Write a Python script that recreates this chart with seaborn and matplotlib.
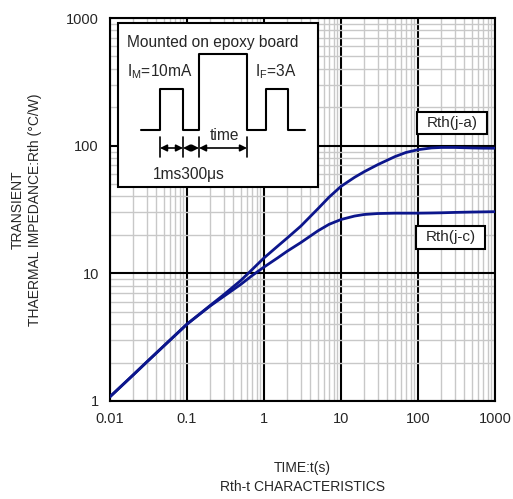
import numpy as np
import pandas as pd
import matplotlib
matplotlib.use('Agg')
import matplotlib.pyplot as plt
import seaborn as sns
from matplotlib.ticker import LogLocator, NullFormatter, FixedLocator, FixedFormatter

# ── Données ──────────────────────────────────────────────────────────────────
time_s = [0.01, 0.02, 0.03, 0.05, 0.1, 0.2, 0.3, 0.5, 0.7, 1, 1.5, 2, 3, 5, 7,
          10, 15, 20, 30, 50, 70, 100, 150, 200, 300, 500, 700, 1000]
rth_ja = [1.08, 1.60, 2.02, 2.70, 4.0, 5.6, 6.8, 8.8, 10.7, 13.2, 16.3, 18.9, 23.4, 32, 39.5,
          48, 56.5, 62.5, 71, 82, 88.5, 93, 96, 96.8, 96.8, 96, 95.6, 95.5]
rth_jc = [1.08, 1.60, 2.02, 2.70, 4.0, 5.55, 6.6, 8.2, 9.6, 11.2, 13.2, 14.9, 17.4, 21.5, 24.2,
          26.4, 28.1, 28.9, 29.4, 29.6, 29.6, 29.6, 29.7, 29.8, 30, 30.2, 30.3, 30.4]
series_names = ['Rth(j-a)', 'Rth(j-c)']
x_ticks = [0.01, 0.1, 1, 10, 100, 1000]
x_ticklabels = ['0.01', '0.1', '1', '10', '100', '1000']
y_ticks = [1, 10, 100, 1000]
y_ticklabels = ['1', '10', '100', '1000']

df = pd.DataFrame({
    'time': time_s * 2,
    'rth': rth_ja + rth_jc,
    'serie': [series_names[0]] * len(time_s) + [series_names[1]] * len(time_s),
})

sns.set_style('white')
plt.rcParams['font.family'] = ['Liberation Sans', 'DejaVu Sans']

W, H = 513, 499
fig = plt.figure(figsize=(W / 100, H / 100), dpi=100)
L, R, T, B = 110, 495, 18, 401
ax = fig.add_axes([L / W, (H - B) / H, (R - L) / W, (B - T) / H])

navy = '#0c168c'
sns.lineplot(data=df, x='time', y='rth', hue='serie', palette=[navy, navy],
             linewidth=2, legend=False, ax=ax, zorder=5)
ax.set_xscale('log'); ax.set_yscale('log')
ax.set_xlim(0.01, 1000); ax.set_ylim(1, 1000)

ax.xaxis.set_major_locator(FixedLocator(x_ticks))
ax.xaxis.set_major_formatter(FixedFormatter(x_ticklabels))
ax.yaxis.set_major_locator(FixedLocator(y_ticks))
ax.yaxis.set_major_formatter(FixedFormatter(y_ticklabels))
ax.xaxis.set_minor_locator(LogLocator(base=10, subs=np.arange(2, 10)))
ax.yaxis.set_minor_locator(LogLocator(base=10, subs=np.arange(2, 10)))
ax.xaxis.set_minor_formatter(NullFormatter())
ax.yaxis.set_minor_formatter(NullFormatter())
ax.grid(which='minor', color='#c8c8c8', linewidth=1.0)
ax.grid(which='major', color='black', linewidth=1.5)
ax.tick_params(which='both', length=0, labelsize=10.5, pad=8)
for s in ax.spines.values():
    s.set_color('black'); s.set_linewidth(1.5)
ax.set_xlabel('TIME:t(s)\nRth-t CHARACTERISTICS', fontsize=10, labelpad=25, linespacing=1.5)
ax.set_ylabel('TRANSIENT\nTHAERMAL IMPEDANCE:Rth (°C/W)', fontsize=10, labelpad=17, linespacing=1.3)

# ── Encart (coordonnées pixel -> axes) ──────────────────────────────────────
def px(x, y):
    return (x - L) / (R - L), (B - y) / (B - T)

def box(x0, y0, x1, y1, lw=1.5):
    a = px(x0, y1); b = px(x1, y0)
    ax.add_patch(plt.Rectangle(a, b[0] - a[0], b[1] - a[1], transform=ax.transAxes,
                               facecolor='white', edgecolor='black', linewidth=lw, zorder=6))

box(118, 23, 318, 187)
def txt(x, y, s, ha='left', size=11.2):
    ax.text(*px(x, y), s, transform=ax.transAxes, ha=ha, va='center', fontsize=size, zorder=8)

txt(127, 42, 'Mounted on epoxy board')
txt(127, 72, r'I$_{\mathregular{M}}$=10mA')
txt(255, 72, r'I$_{\mathregular{F}}$=3A')
wave_x = [141, 160, 160, 183, 183, 199, 199, 247, 247, 266, 266, 288, 288, 305]
wave_y = [130, 130, 89, 89, 130, 130, 54, 54, 130, 130, 89, 89, 130, 130]
pts = [px(a, b) for a, b in zip(wave_x, wave_y)]
ax.plot([p[0] for p in pts], [p[1] for p in pts], color='black', linewidth=1.5,
        transform=ax.transAxes, zorder=8)
for xv in [160, 183, 199, 247]:
    p0, p1 = px(xv, 137), px(xv, 157)
    ax.plot([p0[0], p1[0]], [p0[1], p1[1]], color='black', linewidth=1.2,
            transform=ax.transAxes, zorder=8)
for a, b in [(160, 183), (183, 199), (199, 247)]:
    ax.annotate('', xy=px(b, 148), xytext=px(a, 148), xycoords='axes fraction',
                arrowprops=dict(arrowstyle='<|-|>', color='black', lw=1.2,
                                mutation_scale=10, shrinkA=0, shrinkB=0), zorder=8)
txt(225, 135, 'time', ha='center')
txt(153, 174, '1ms300μs')

# ── Étiquettes des courbes ───────────────────────────────────────────────
for (x0, y0, x1, y1), name in zip([(417, 112, 487, 134), (416, 226, 485, 249)], series_names):
    box(x0, y0, x1, y1)
    txt((x0 + x1) / 2, (y0 + y1) / 2, name, ha='center', size=11)

plt.savefig('out.png', dpi=100)
plt.close()
